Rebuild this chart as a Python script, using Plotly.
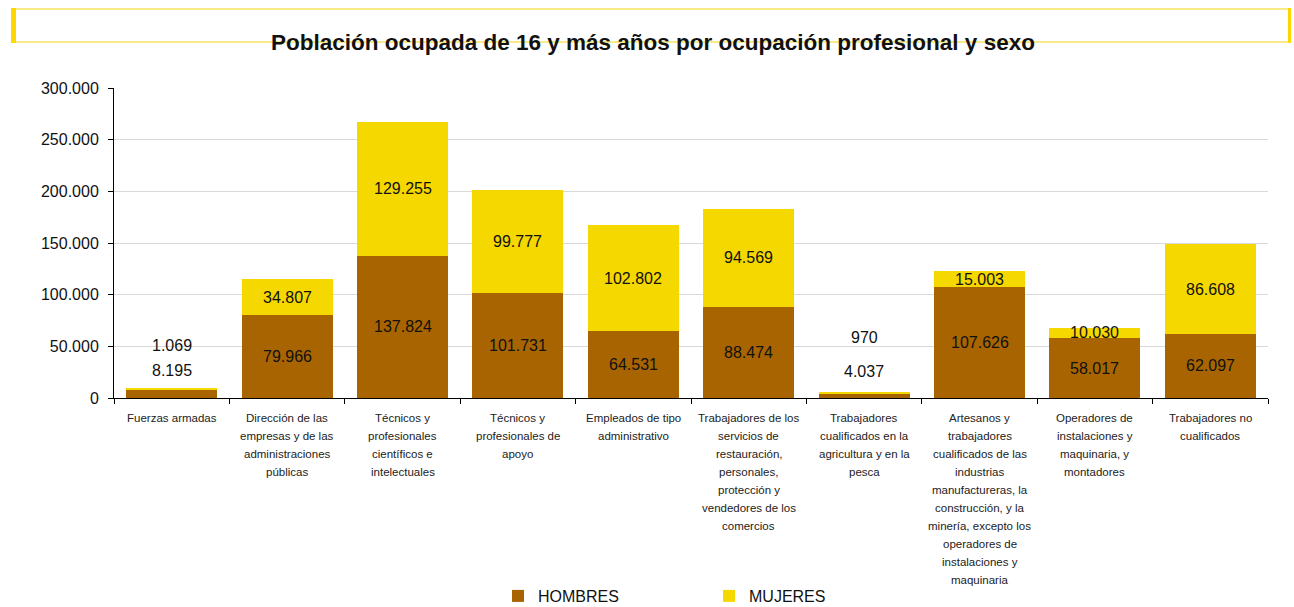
import plotly.graph_objects as go

categories = [
    "Fuerzas armadas",
    "Dirección de las<br>empresas y de las<br>administraciones<br>públicas",
    "Técnicos y<br>profesionales<br>científicos e<br>intelectuales",
    "Técnicos y<br>profesionales de<br>apoyo",
    "Empleados de tipo<br>administrativo",
    "Trabajadores de los<br>servicios de<br>restauración,<br>personales,<br>protección y<br>vendedores de los<br>comercios",
    "Trabajadores<br>cualificados en la<br>agricultura y en la<br>pesca",
    "Artesanos y<br>trabajadores<br>cualificados de las<br>industrias<br>manufactureras, la<br>construcción, y la<br>minería, excepto los<br>operadores de<br>instalaciones y<br>maquinaria",
    "Operadores de<br>instalaciones y<br>maquinaria, y<br>montadores",
    "Trabajadores no<br>cualificados",
]
hombres = [8195, 79966, 137824, 101731, 64531, 88474, 4037, 107626, 58017, 62097]
mujeres = [1069, 34807, 129255, 99777, 102802, 94569, 970, 15003, 10030, 86608]
y_ticks = [0, 50000, 100000, 150000, 200000, 250000, 300000]

C_H = "#A86400"
C_M = "#F5D800"
FONT = "Liberation Sans, Arial, sans-serif"

fig = go.Figure()
fig.add_trace(go.Bar(name="HOMBRES", x=categories, y=hombres, marker_color=C_H,
                     marker_line_width=0, hoverinfo="skip"))
fig.add_trace(go.Bar(name="MUJERES", x=categories, y=mujeres, marker_color=C_M,
                     marker_line_width=0, hoverinfo="skip"))

def fmt(v):
    return f"{v:,}".replace(",", ".")

lab_font = dict(size=16, color="#111111", family=FONT)
annotations = []
for c, h, m in zip(categories, hombres, mujeres):
    if h + m < 20000:
        annotations.append(dict(x=c, y=h + m, text=fmt(h), showarrow=False,
                                yshift=18 if m > 1000 else 21, font=lab_font))
        annotations.append(dict(x=c, y=h + m, text=fmt(m), showarrow=False,
                                yshift=43 if m > 1000 else 55, font=lab_font))
    else:
        annotations.append(dict(x=c, y=h / 2, text=fmt(h), showarrow=False, font=lab_font))
        annotations.append(dict(x=c, y=h + m / 2, text=fmt(m), showarrow=False, font=lab_font))

# category labels, one annotation per line for Excel-like line spacing
for c in categories:
    for k, line in enumerate(c.split("<br>")):
        annotations.append(dict(x=c, xref="x", y=0, yref="paper", text=line, showarrow=False,
                                yanchor="middle", yshift=-(20 + 18 * k),
                                font=dict(size=11.5, color="#222222", family=FONT)))

# pixel -> paper helpers (plot area x 114..1268, y 88..398)
def px(x):
    return (x - 114) / 1154
def py(y):
    return (398 - y) / 310

shapes = [
    dict(type="rect", xref="paper", yref="paper", x0=px(12), x1=px(1290), y0=py(42), y1=py(9),
         line=dict(color="#F7E463", width=1.5), fillcolor="rgba(0,0,0,0)", layer="below"),
    dict(type="rect", xref="paper", yref="paper", x0=px(11), x1=px(16), y0=py(43), y1=py(8),
         line=dict(width=0), fillcolor="#FFD700"),
    dict(type="rect", xref="paper", yref="paper", x0=px(1288), x1=px(1291), y0=py(43), y1=py(8),
         line=dict(width=0), fillcolor="#FFD700"),
]

fig.update_layout(
    barmode="stack",
    bargap=0.21,
    width=1294, height=607,
    separators=",.",
    paper_bgcolor="white", plot_bgcolor="white",
    margin=dict(l=114, r=26, t=88, b=209),
    font=dict(family=FONT, color="#111111"),
    title=dict(text="<b>Población ocupada de 16 y más años por ocupación profesional y sexo</b>",
               x=0.5046, xanchor="center", y=1 - 42 / 607, yanchor="middle",
               font=dict(size=22.5, family=FONT, color="#111111")),
    xaxis=dict(showline=True, linecolor="black", linewidth=1, ticks="outside",
               tickson="boundaries", ticklen=5, tickcolor="black", showticklabels=False,
               showgrid=False, automargin=False),
    yaxis=dict(range=[0, 300000], tickvals=y_ticks, tickformat=",d", showline=True,
               linecolor="black", linewidth=1, ticks="outside", ticklen=5, tickcolor="black",
               gridcolor="#D9D9D9", gridwidth=1, zeroline=False, ticklabelstandoff=6,
               tickfont=dict(size=16, family=FONT, color="#111111"), automargin=False),
    legend=dict(orientation="h", x=px(498), xanchor="left",
                yref="container", y=1 - 596 / 607, yanchor="middle",
                font=dict(size=16, family=FONT, color="#111111"), entrywidth=166,
                traceorder="normal", itemclick=False, itemdoubleclick=False),
    annotations=annotations,
    shapes=shapes,
)

fig.write_html("out.html",
               config={"responsive": False, "displayModeBar": False},
               post_script="document.body.style.margin='0';document.body.style.overflow='hidden';")
